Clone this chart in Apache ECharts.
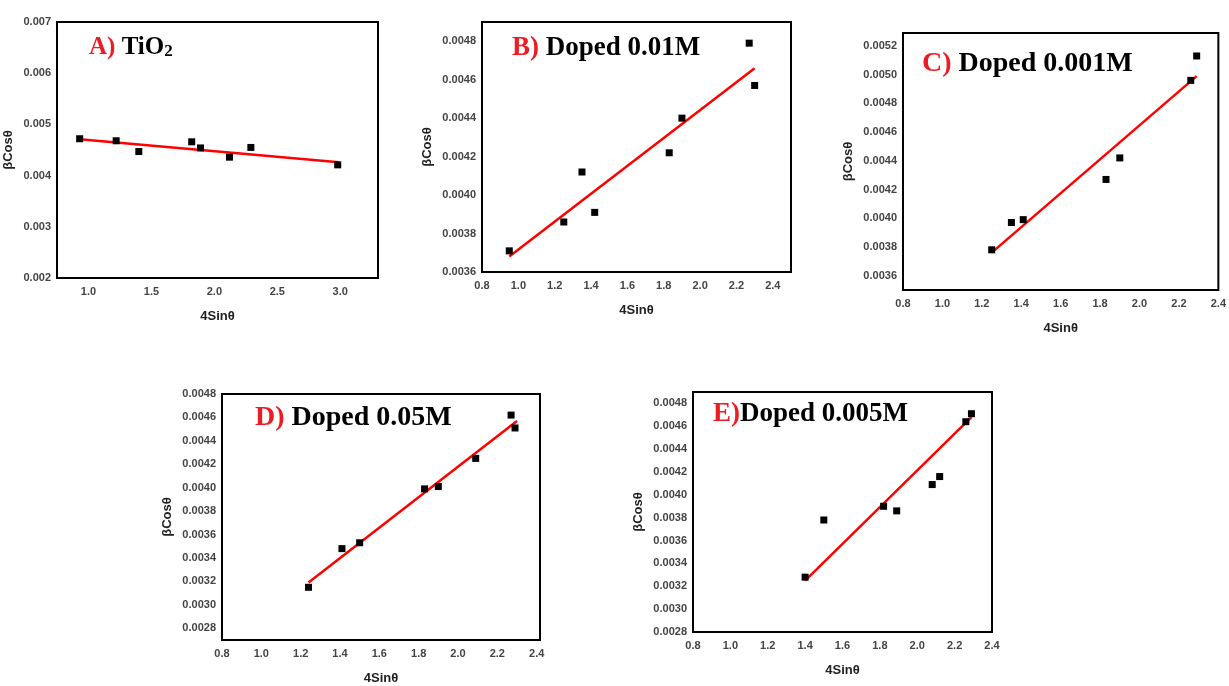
<!DOCTYPE html>
<html><head><meta charset="utf-8">
<script src="https://cdn.jsdelivr.net/npm/echarts@6/dist/echarts.min.js"></script>
<style>html,body{margin:0;padding:0;background:#fff}#c{width:1229px;height:686px}</style>
</head><body><div id="c"></div>
<script>
// ---- Data ----
// Panel A) TiO2
const xA = [0.93, 1.22, 1.40, 1.82, 1.89, 2.12, 2.29, 2.98];
const yA = [0.00472, 0.00468, 0.00447, 0.00466, 0.00454, 0.00436, 0.00455, 0.00421];
const fitXA = [0.93, 2.99];
const fitYA = [0.00471, 0.00426];
// Panel B) Doped 0.01M
const xB = [0.95, 1.25, 1.35, 1.42, 1.83, 1.90, 2.27, 2.30];
const yB = [0.00371, 0.00386, 0.00412, 0.00391, 0.00422, 0.00440, 0.00479, 0.00457];
const fitXB = [0.95, 2.30];
const fitYB = [0.00368, 0.00466];
// Panel C) Doped 0.001M
const xC = [1.25, 1.35, 1.41, 1.83, 1.90, 2.26, 2.29];
const yC = [0.00378, 0.00397, 0.00399, 0.00427, 0.00442, 0.00496, 0.00513];
const fitXC = [1.25, 2.29];
const fitYC = [0.00376, 0.00499];
// Panel D) Doped 0.05M
const xD = [1.24, 1.41, 1.50, 1.83, 1.90, 2.09, 2.27, 2.29];
const yD = [0.00315, 0.00348, 0.00353, 0.00399, 0.00401, 0.00425, 0.00462, 0.00451];
const fitXD = [1.24, 2.30];
const fitYD = [0.00319, 0.00457];
// Panel E) Doped 0.005M
const xE = [1.40, 1.50, 1.82, 1.89, 2.08, 2.12, 2.26, 2.29];
const yE = [0.00328, 0.00378, 0.00390, 0.00386, 0.00409, 0.00416, 0.00464, 0.00471];
const fitXE = [1.40, 2.29];
const fitYE = [0.00325, 0.00468];

const titleLetters = ['A)', 'B)', 'C)', 'D)', 'E)'];
const titleTexts = ['TiO', 'Doped 0.01M', 'Doped 0.001M', 'Doped 0.05M', 'Doped 0.005M'];
const xName = '4Sin\u03b8';
const yName = '\u03b2Cos\u03b8';

// ---- Layout ----
const panels = [
  {xs: xA, ys: yA, fx: fitXA, fy: fitYA, grid: {left: 57, top: 22, width: 321, height: 256},
   xr: [0.75, 3.3, 0.25, 0.5, 1], yr: [0.002, 0.007, 0.001, 0.001, 3], yGap: 42,
   title: {x: 89, y: 48, size: 25, sep: ' ', sub: true}},
  {xs: xB, ys: yB, fx: fitXB, fy: fitYB, grid: {left: 482, top: 22, width: 309, height: 250},
   xr: [0.8, 2.5, 0.2, 0.2, 1], yr: [0.0036, 0.0049, 0.0002, 0.0002, 4], yGap: 48,
   title: {x: 512, y: 48, size: 27, sep: ' '}},
  {xs: xC, ys: yC, fx: fitXC, fy: fitYC, grid: {left: 903, top: 33, width: 320, height: 257},
   xr: [0.8, 2.4, 0.2, 0.2, 1], yr: [0.0035, 0.00529, 0.0001, 0.0002, 4], yGap: 48,
   title: {x: 922, y: 64, size: 28, sep: ' '}},
  {xs: xD, ys: yD, fx: fitXD, fy: fitYD, grid: {left: 222, top: 394, width: 318, height: 255},
   xr: [0.8, 2.417, 0.2, 0.2, 1], yr: [0.0027, 0.0048, 0.0001, 0.0002, 4], yGap: 48,
   title: {x: 255, y: 418, size: 28, sep: ' '}},
  {xs: xE, ys: yE, fx: fitXE, fy: fitYE, grid: {left: 693, top: 392, width: 299, height: 240},
   xr: [0.8, 2.4, 0.2, 0.2, 1], yr: [0.0028, 0.0049, 0.0002, 0.0002, 4], yGap: 48,
   title: {x: 713, y: 414, size: 27, sep: ''}}
];

function fmt(step, dec) {
  return function (v) {
    const k = v / step;
    if (Math.abs(k - Math.round(k)) > 1e-6) return '';
    return v.toFixed(dec);
  };
}

const grids = [], xAxes = [], yAxes = [], series = [], graphics = [];
const labelStyle = {fontFamily: 'Liberation Sans', fontSize: 11, fontWeight: 'bold', color: '#444'};
const nameStyle = {fontFamily: 'Liberation Sans', fontSize: 13, fontWeight: 'bold', color: '#222'};

panels.forEach(function (p, i) {
  grids.push(Object.assign({show: true, borderColor: '#000', borderWidth: 2, backgroundColor: 'transparent'}, p.grid));
  xAxes.push({
    type: 'value', gridIndex: i, min: p.xr[0], max: p.xr[1], interval: p.xr[2],
    axisLine: {show: false}, axisTick: {show: false}, splitLine: {show: false},
    axisLabel: Object.assign({margin: 8, formatter: fmt(p.xr[3], p.xr[4]), showMinLabel: true, showMaxLabel: true}, labelStyle),
    name: xName, nameLocation: 'middle', nameGap: 32, nameTextStyle: nameStyle
  });
  yAxes.push({
    type: 'value', gridIndex: i, min: p.yr[0], max: p.yr[1], interval: p.yr[2],
    axisLine: {show: false}, axisTick: {show: false}, splitLine: {show: false},
    axisLabel: Object.assign({margin: 6, formatter: fmt(p.yr[3], p.yr[4])}, labelStyle),
    name: yName, nameLocation: 'middle', nameGap: p.yGap, nameRotate: 90, nameTextStyle: nameStyle
  });
  series.push({
    type: 'line', xAxisIndex: i, yAxisIndex: i, symbol: 'none', silent: true,
    data: p.fx.map(function (x, j) { return [x, p.fy[j]]; }),
    lineStyle: {color: '#ff0000', width: 2.5, opacity: 1}, z: 2
  });
  series.push({
    type: 'scatter', xAxisIndex: i, yAxisIndex: i, symbol: 'rect', symbolSize: 7,
    itemStyle: {color: '#000', opacity: 1},
    data: p.xs.map(function (x, j) { return [x, p.ys[j]]; }), z: 3
  });
  const t = p.title;
  const rich = {
    r: {fill: '#ec1c24', fontFamily: 'Liberation Serif', fontWeight: 'bold', fontSize: t.size},
    k: {fill: '#000', fontFamily: 'Liberation Serif', fontWeight: 'bold', fontSize: t.size},
    s: {fill: '#000', fontFamily: 'Liberation Serif', fontWeight: 'bold', fontSize: Math.round(t.size * 0.68), verticalAlign: 'bottom'}
  };
  let text = '{r|' + titleLetters[i] + '}' + (t.sep ? '{k|' + t.sep + '}' : '') + '{k|' + titleTexts[i] + '}';
  if (t.sub) text += '{s|2}';
  graphics.push({
    type: 'text', x: t.x, y: t.y, z: 10,
    style: {text: text, rich: rich, verticalAlign: 'middle', align: 'left',
            fontFamily: 'Liberation Serif', fontWeight: 'bold', fontSize: t.size}
  });
});

const chart = echarts.init(document.getElementById('c'), null, {renderer: 'canvas'});
chart.setOption({
  backgroundColor: '#fff',
  animation: false,
  grid: grids, xAxis: xAxes, yAxis: yAxes, series: series, graphic: graphics
});
</script>
</body></html>
